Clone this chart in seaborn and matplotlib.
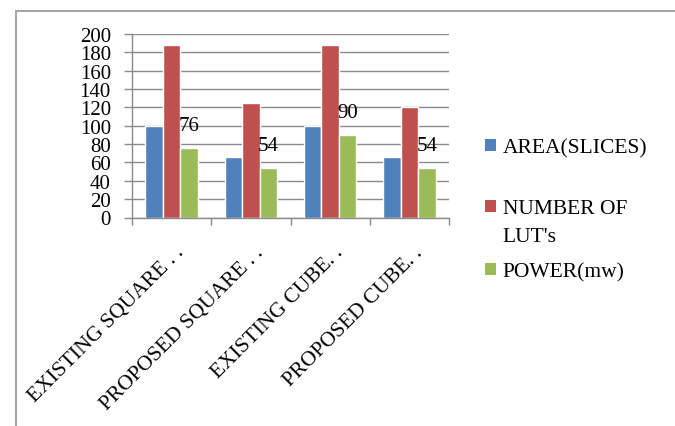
import numpy as np
import pandas as pd
import matplotlib
matplotlib.use("Agg")
import matplotlib.pyplot as plt
import matplotlib.patches as mpatches
import matplotlib.lines as mlines
import matplotlib.transforms as mtransforms
import seaborn as sns

categories = ["EXISTING SQUARE . .", "PROPOSED SQUARE . .", "EXISTING CUBE. .", "PROPOSED CUBE. ."]
series_names = ["AREA(SLICES)", "NUMBER OF LUT's", "POWER(mw)"]
area = [100, 66, 100, 66]
luts = [188, 125, 188, 120]
power = [76, 54, 90, 54]
yticks = [0, 20, 40, 60, 80, 100, 120, 140, 160, 180, 200]
colors = ["#4f81bd", "#c0504d", "#9bbb59"]

rows = []
for s, vals in zip(series_names, [area, luts, power]):
    for c, v in zip(categories, vals):
        rows.append({"category": c, "series": s, "value": v})
df = pd.DataFrame(rows)

sns.set_theme(style="white")
plt.rcParams["font.family"] = ["Liberation Serif", "DejaVu Serif"]

W, H = 675, 427
fig = plt.figure(figsize=(W / 100, H / 100), dpi=100)
ax = fig.add_axes([132 / W, 1 - 218.5 / H, (449 - 132) / W, (218.5 - 35) / H])

sns.barplot(data=df, x="category", y="value", hue="series", palette=colors,
            saturation=1, width=0.66, ax=ax, legend=False)

fs = 15
grid_c = "#8a8a8a"
ax.set_ylim(0, 200)
ax.set_xlim(-0.5, len(categories) - 0.5)
ax.set_yticks(yticks)
ax.set_yticklabels([str(t) for t in yticks], fontsize=fs, color="black")
ax.yaxis.grid(True, color=grid_c, linewidth=1)
ax.set_axisbelow(True)
ax.tick_params(axis="y", length=5.8, width=1, color=grid_c, pad=9.4, left=True)
ax.set_xlabel("")
ax.set_ylabel("")

# category ticks at boundaries
ax.set_xticks(np.arange(-0.5, len(categories), 1.0), minor=True)
ax.tick_params(axis="x", which="minor", length=5, width=1, color=grid_c, bottom=True, direction="out")
ax.tick_params(axis="x", which="major", length=0)
ax.set_xticks(range(len(categories)))
offset = mtransforms.ScaledTranslation(10 / 100, -27 / 100, fig.dpi_scale_trans)
ax.set_xticklabels(categories, rotation=45, ha="right", va="center",
                   rotation_mode="anchor", fontsize=15.5, color="black")
for lab in ax.get_xticklabels():
    lab.set_transform(lab.get_transform() + offset)

for side in ["top", "right"]:
    ax.spines[side].set_visible(False)
for side in ["left", "bottom"]:
    ax.spines[side].set_color(grid_c)
    ax.spines[side].set_linewidth(1)

# data labels on power bars
ax.bar_label(ax.containers[2], labels=[str(v) for v in power], padding=9, fontsize=fs, color="black")

# legend entries
lfs = 15.5
def add_leg(label, color, ycenter):
    h = mpatches.Patch(facecolor=color, edgecolor="none")
    leg = fig.legend(handles=[h], labels=[label], loc="center left",
                     bbox_to_anchor=(485 / W, 1 - ycenter / H), frameon=False,
                     fontsize=lfs, handlelength=0.53, handleheight=0.53,
                     handletextpad=0.3, borderpad=0, borderaxespad=0)
    for t in leg.get_texts():
        t.set_color("black")
    return leg

add_leg(series_names[0], colors[0], 149)
add_leg("NUMBER OF", colors[1], 210)
fig.text(502.6 / W, 1 - 238 / H, "LUT's", fontsize=lfs, va="center", ha="left", color="black")
add_leg(series_names[2], colors[2], 273)

# outer frame lines
fc = "#a6a6a6"
fig.add_artist(mlines.Line2D([16 / W, 1.0], [1 - 11.5 / H, 1 - 11.5 / H], color=fc, lw=1.5,
                             transform=fig.transFigure))
fig.add_artist(mlines.Line2D([16 / W, 16 / W], [1 - 11.5 / H, 0.0], color=fc, lw=1.5,
                             transform=fig.transFigure))

fig.savefig("out.png", dpi=100)
